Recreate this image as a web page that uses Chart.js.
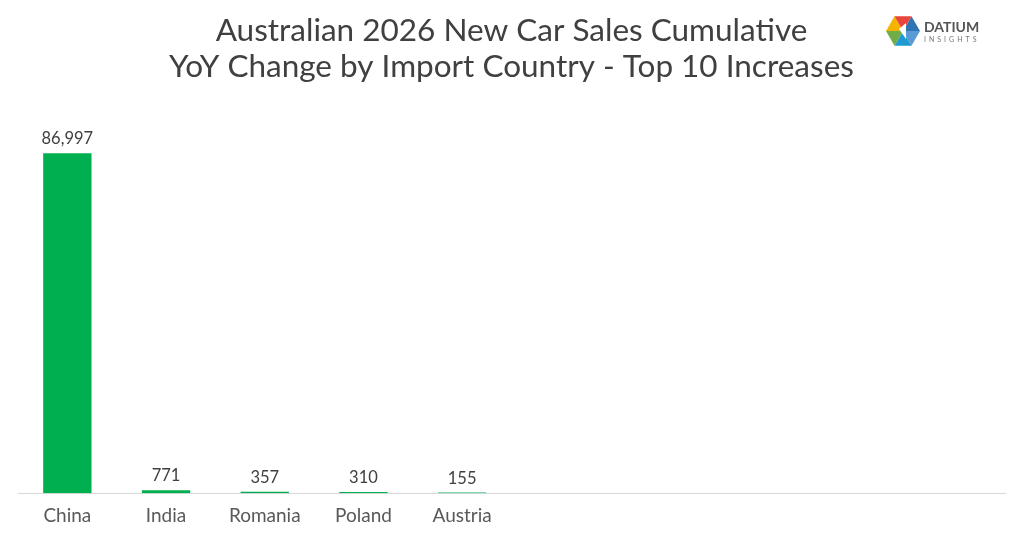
<!DOCTYPE html>
<html>
<head>
<meta charset="utf-8">
<script src="https://cdn.jsdelivr.net/npm/chart.js@4.4.1/dist/chart.umd.min.js"></script>
<style>
  body { margin: 0; background: #fff; }
  #wrap { width: 1024px; height: 535px; }
</style>
</head>
<body>
<div id="wrap"><canvas id="chart" width="1024" height="535"></canvas></div>
<script>
const countries = ['China', 'India', 'Romania', 'Poland', 'Austria', '', '', '', '', ''];
const yoyChange = [86997, 771, 357, 310, 155, null, null, null, null, null];
const titleLines = ['Australian 2026 New Car Sales Cumulative', 'YoY Change by Import Country - Top 10 Increases'];

const FONT = "'Century Gothic', Lato, 'Open Sans', sans-serif";

// value labels above each bar
const valueLabels = {
  id: 'valueLabels',
  afterDatasetsDraw(chart) {
    const ctx = chart.ctx;
    const meta = chart.getDatasetMeta(0);
    ctx.save();
    ctx.font = '16.5px ' + FONT;
    ctx.fillStyle = '#404040';
    ctx.textAlign = 'center';
    ctx.textBaseline = 'bottom';
    meta.data.forEach((bar, i) => {
      const v = yoyChange[i];
      if (v == null) return;
      ctx.fillText(v.toLocaleString('en-US'), bar.x, bar.y - 6);
    });
    ctx.restore();
  }
};

// small datium logo top right
const logo = {
  id: 'logo',
  afterDraw(chart) {
    const ctx = chart.ctx;
    const cx = 903, cy = 31, r = 17;
    ctx.save();
    for (let k = 0; k < 6; k++) {
      const a1 = Math.PI / 6 + k * Math.PI / 3 - Math.PI / 2;
      const a2 = a1 + Math.PI / 3;
      ctx.beginPath();
      ctx.moveTo(cx, cy);
      ctx.lineTo(cx + r * Math.cos(a1), cy + r * Math.sin(a1));
      ctx.lineTo(cx + r * Math.cos(a2), cy + r * Math.sin(a2));
      ctx.closePath();
      ctx.fillStyle = ['#2e75b6', '#5b9bd5', '#1f9bd1', '#70ad47', '#f4b400', '#e8453c'][k];
      ctx.fill();
    }
    ctx.beginPath();
    ctx.moveTo(cx - 4, cy - 2);
    ctx.lineTo(cx + 3, cy - 8);
    ctx.lineTo(cx + 3, cy + 8);
    ctx.closePath();
    ctx.fillStyle = '#fff';
    ctx.fill();
    ctx.fillStyle = '#555';
    ctx.font = 'bold 14px ' + FONT;
    ctx.textBaseline = 'alphabetic';
    ctx.fillText('DATIUM', 924, 32);
    ctx.font = '7px ' + FONT;
    ctx.fillStyle = '#777';
    ctx.letterSpacing = '3px';
    ctx.fillText('INSIGHTS', 924, 42);
    ctx.restore();
  }
};

new Chart(document.getElementById('chart'), {
  type: 'bar',
  data: {
    labels: countries,
    datasets: [{
      data: yoyChange,
      backgroundColor: '#00b050',
      barPercentage: 0.49,
      categoryPercentage: 1
    }]
  },
  options: {
    responsive: false,
    animation: false,
    layout: { padding: { left: 18, right: 19, top: 0, bottom: 5 } },
    plugins: {
      legend: { display: false },
      tooltip: { enabled: false },
      title: {
        display: true,
        text: titleLines,
        color: '#404040',
        font: { family: FONT, size: 31.5, weight: 'normal', lineHeight: 1.15 },
        padding: { top: 13, bottom: 17 }
      }
    },
    scales: {
      x: {
        grid: { display: false },
        border: { color: '#d9d9d9', width: 1 },
        ticks: { color: '#595959', font: { family: FONT, size: 19 }, padding: 3 }
      },
      y: {
        display: false,
        min: 0,
        max: 100000
      }
    }
  },
  plugins: [valueLabels, logo]
});
</script>
</body>
</html>
